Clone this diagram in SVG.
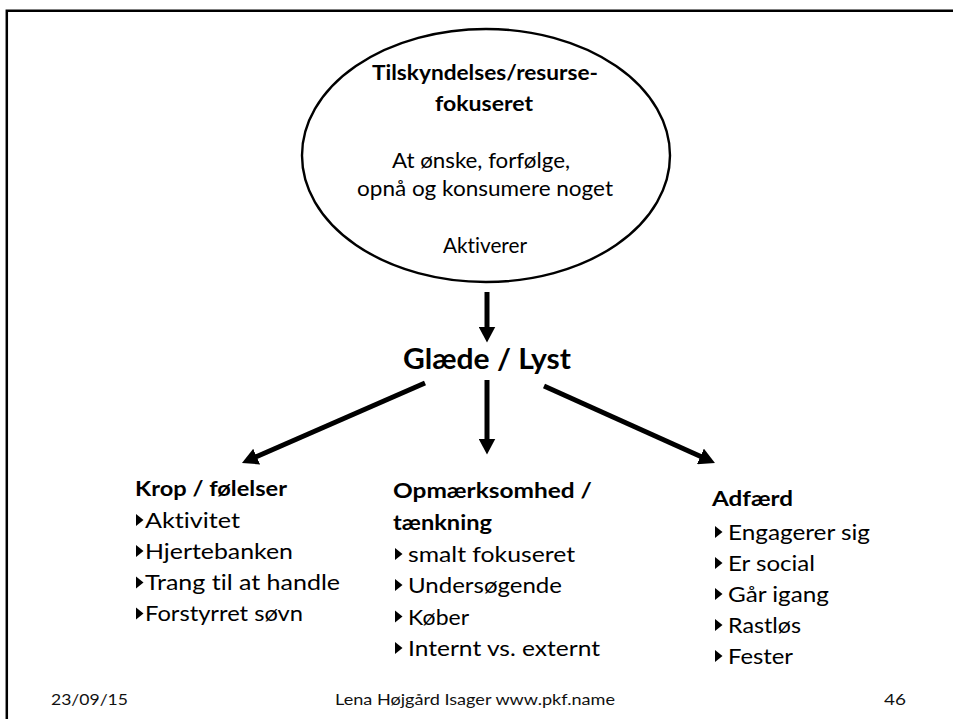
<svg xmlns="http://www.w3.org/2000/svg" xmlns:xlink="http://www.w3.org/1999/xlink" width="953" height="719" viewBox="0 0 953 719">
  <style>
    text { font-family: Lato, "Liberation Sans", "DejaVu Sans", sans-serif; fill: #000; font-variant-ligatures: none; font-feature-settings: "liga" 0, "clig" 0; }
    .b { font-weight: bold; }
    .big { font-size: 21.5px; }
    .title { font-size: 28.5px; font-weight: bold; }
    .foot { font-size: 16px; fill: #111; }
    .frame { fill: none; stroke: #000; stroke-width: 2.5; stroke-linejoin: miter; }
    .node-shape { fill: #fff; stroke: #000; stroke-width: 2.4; }
    .edge { stroke: #000; stroke-width: 5; fill: none; }
  </style>
  <defs>
    <marker id="head" markerUnits="userSpaceOnUse" viewBox="0 0 16 17" markerWidth="16" markerHeight="17" refX="1" refY="8.5" orient="auto">
      <path d="M0,0 L16,8.5 L0,17 z" fill="#000"/>
    </marker>
    <path id="tri" d="M0,0 L7.5,6 L0,12 z" fill="#000"/>
  </defs>

  <!-- slide frame: left and top edges -->
  <path class="frame" d="M6.8,719 V10.7 H953"/>

  <!-- source node -->
  <g id="node-tilskyndelse">
    <ellipse class="node-shape" cx="486" cy="155.5" rx="184" ry="126.5"/>
    <text class="b big" x="372" y="80" textLength="226" lengthAdjust="spacingAndGlyphs">Tilskyndelses/resurse-</text>
    <text class="b big" x="435" y="110.5" textLength="98" lengthAdjust="spacingAndGlyphs">fokuseret</text>
    <text class="big" x="392" y="168" textLength="178" lengthAdjust="spacingAndGlyphs">At ønske, forfølge,</text>
    <text class="big" x="357" y="196" textLength="256" lengthAdjust="spacingAndGlyphs">opnå og konsumere noget</text>
    <text class="big" x="443" y="253" textLength="84" lengthAdjust="spacingAndGlyphs">Aktiverer</text>
  </g>

  <!-- central emotion -->
  <g id="node-glaede">
    <text class="title" x="403" y="369" textLength="168" lengthAdjust="spacingAndGlyphs">Glæde / Lyst</text>
  </g>

  <!-- body / feelings -->
  <g id="node-krop">
    <text class="b big" x="135" y="496" textLength="152" lengthAdjust="spacingAndGlyphs">Krop / følelser</text>
    <use xlink:href="#tri" x="136" y="514"/>
    <text class="big" x="145" y="527.5" textLength="95" lengthAdjust="spacingAndGlyphs">Aktivitet</text>
    <use xlink:href="#tri" x="136" y="545"/>
    <text class="big" x="145" y="558.5" textLength="148" lengthAdjust="spacingAndGlyphs">Hjertebanken</text>
    <use xlink:href="#tri" x="136" y="576.5"/>
    <text class="big" x="145" y="590" textLength="195" lengthAdjust="spacingAndGlyphs">Trang til at handle</text>
    <use xlink:href="#tri" x="136" y="607.5"/>
    <text class="big" x="145" y="621" textLength="158" lengthAdjust="spacingAndGlyphs">Forstyrret søvn</text>
  </g>

  <!-- attention / thinking -->
  <g id="node-opmaerksomhed">
    <text class="b big" x="393" y="498" textLength="199" lengthAdjust="spacingAndGlyphs">Opmærksomhed /</text>
    <text class="b big" x="393" y="530" textLength="99" lengthAdjust="spacingAndGlyphs">tænkning</text>
    <use xlink:href="#tri" x="395" y="548"/>
    <text class="big" x="408" y="562" textLength="167" lengthAdjust="spacingAndGlyphs">smalt fokuseret</text>
    <use xlink:href="#tri" x="395" y="579"/>
    <text class="big" x="408" y="593" textLength="154" lengthAdjust="spacingAndGlyphs">Undersøgende</text>
    <use xlink:href="#tri" x="395" y="610.5"/>
    <text class="big" x="408" y="624.5" textLength="61" lengthAdjust="spacingAndGlyphs">Køber</text>
    <use xlink:href="#tri" x="395" y="642"/>
    <text class="big" x="408" y="656" textLength="192" lengthAdjust="spacingAndGlyphs">Internt vs. externt</text>
  </g>

  <!-- behaviour -->
  <g id="node-adfaerd">
    <text class="b big" x="712" y="506" textLength="81" lengthAdjust="spacingAndGlyphs">Adfærd</text>
    <use xlink:href="#tri" x="715" y="526"/>
    <text class="big" x="728" y="540" textLength="142" lengthAdjust="spacingAndGlyphs">Engagerer sig</text>
    <use xlink:href="#tri" x="715" y="557"/>
    <text class="big" x="728" y="571" textLength="87" lengthAdjust="spacingAndGlyphs">Er social</text>
    <use xlink:href="#tri" x="715" y="588"/>
    <text class="big" x="728" y="602" textLength="101" lengthAdjust="spacingAndGlyphs">Går igang</text>
    <use xlink:href="#tri" x="715" y="619"/>
    <text class="big" x="728" y="633" textLength="73" lengthAdjust="spacingAndGlyphs">Rastløs</text>
    <use xlink:href="#tri" x="715" y="650"/>
    <text class="big" x="728" y="664" textLength="65" lengthAdjust="spacingAndGlyphs">Fester</text>
  </g>

  <!-- connectors -->
  <g id="connectors">
    <line class="edge" x1="487" y1="292" x2="487" y2="327.5" marker-end="url(#head)"/>
    <line class="edge" x1="487" y1="380" x2="487" y2="439.5" marker-end="url(#head)"/>
    <line class="edge" x1="425" y1="383" x2="255.7" y2="457" marker-end="url(#head)"/>
    <line class="edge" x1="544" y1="386" x2="701.3" y2="456.8" marker-end="url(#head)"/>
  </g>

  <!-- footer -->
  <g id="footer">
    <text class="foot" x="51" y="705" textLength="77" lengthAdjust="spacingAndGlyphs">23/09/15</text>
    <text class="foot" x="335" y="705" textLength="280" lengthAdjust="spacingAndGlyphs">Lena Højgård Isager www.pkf.name</text>
    <text class="foot" x="884" y="705" textLength="22" lengthAdjust="spacingAndGlyphs">46</text>
  </g>
</svg>
